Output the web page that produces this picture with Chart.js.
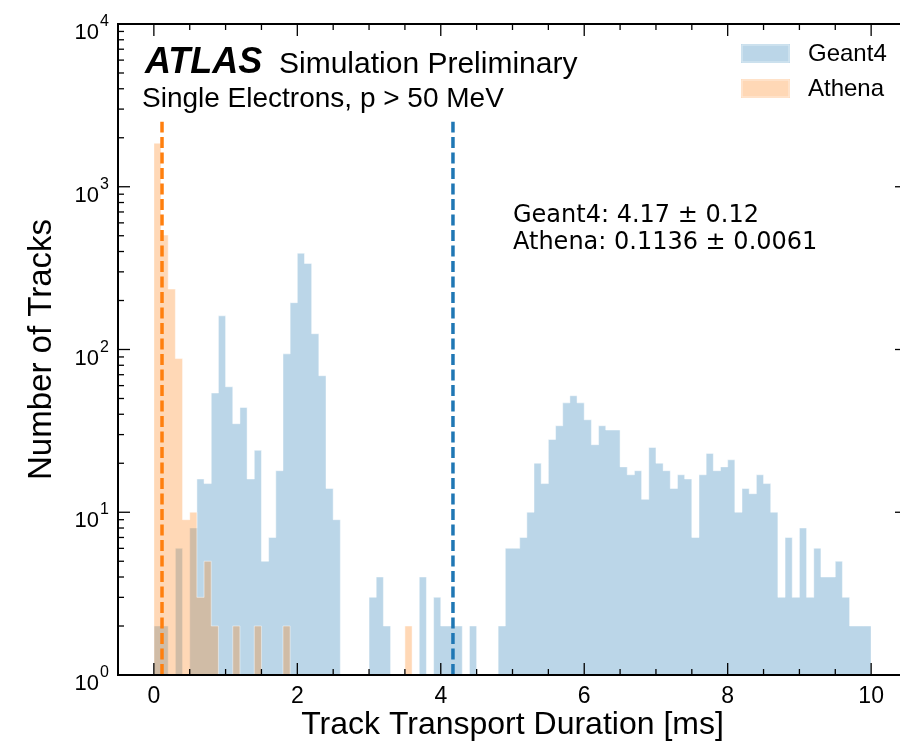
<!DOCTYPE html>
<html>
<head>
<meta charset="utf-8">
<title>Track Transport Duration</title>
<script src="https://cdn.jsdelivr.net/npm/chart.js@4.4.0/dist/chart.umd.min.js"></script>
<style>
  html, body { margin: 0; padding: 0; background: #fff; overflow: hidden; width: 900px; height: 747px; }
  canvas { display: block; }
</style>
</head>
<body>
<canvas id="chart" width="907" height="747"></canvas>
<script>
// histogram binning: 100 bins of 0.1 ms from 0 to 10 ms
const binStart = 0;
const binWidth = 0.1;

// counts per bin, Geant4 transport
const geant4Counts = [
  2, 2, 0, 6, 0, 8, 16, 15, 54, 161,
  59, 35, 44, 16, 24, 5, 7, 18, 94, 194,
  390, 338, 125, 69, 14, 9, 0, 0, 0, 0,
  3, 4, 2, 0, 0, 0, 0, 4, 0, 3,
  2, 2, 2, 0, 2, 0, 0, 0, 2, 6,
  6, 7, 10, 20, 15, 28, 34, 47, 52, 47,
  37, 26, 34, 32, 32, 19, 17, 18, 12, 25,
  20, 18, 14, 17, 16, 7, 17, 23, 18, 19,
  21, 10, 14, 13, 17, 15, 10, 3, 7, 3,
  8, 3, 6, 4, 4, 5, 3, 2, 2, 2
];

// counts per bin, Athena transport
const athenaCounts = [
  1850, 505, 235, 88, 9, 10, 3, 5, 2, 0,
  0, 2, 0, 0, 2, 0, 0, 0, 2, 0,
  0, 0, 0, 0, 0, 0, 0, 0, 0, 0,
  0, 0, 0, 0, 0, 2, 0, 0, 0, 0,
  0, 0, 0, 0, 0, 0, 0, 0, 0, 0,
  0, 0, 0, 0, 0, 0, 0, 0, 0, 0,
  0, 0, 0, 0, 0, 0, 0, 0, 0, 0,
  0, 0, 0, 0, 0, 0, 0, 0, 0, 0,
  0, 0, 0, 0, 0, 0, 0, 0, 0, 0,
  0, 0, 0, 0, 0, 0, 0, 0, 0, 0
];

const seriesNames = ['Geant4', 'Athena'];
const meanValues = [4.17, 0.1136];
const meanErrors = ['0.12', '0.0061'];
const meanLabels = ['4.17', '0.1136'];

const xTicks = [0, 2, 4, 6, 8, 10];
const xMinorStep = 0.5;
const xMin = -0.5, xMax = 10.5;
const yMin = 1, yMax = 10000;
const yDecades = [1, 10, 100, 1000, 10000];

const fillBlue = 'rgba(31,119,180,0.3)';
const fillOrange = 'rgba(255,127,14,0.3)';
const lineBlue = '#1f77b4';
const lineOrange = '#ff7f0e';
const helv = '"Liberation Sans", Arial, sans-serif';

// outline of a histogram as a stepped line, closed down to the axis floor
function stepPoints(counts) {
  const pts = [{ x: binStart, y: yMin }];
  counts.forEach((c, i) => pts.push({ x: binStart + i * binWidth, y: Math.max(c, yMin) }));
  pts.push({ x: binStart + counts.length * binWidth, y: yMin });
  return pts;
}

// mean marker running up to 85% of the axes height
function meanLine(v) {
  return [{ x: v, y: yMin }, { x: v, y: yMin * Math.pow(yMax / yMin, 0.85) }];
}

const frame = {
  id: 'frame',
  afterDatasetsDraw(chart) {
    const { ctx, chartArea: a, scales: { x, y } } = chart;
    ctx.save();
    ctx.strokeStyle = '#000';
    ctx.lineWidth = 1.3;
    const tick = (x0, y0, x1, y1) => { ctx.beginPath(); ctx.moveTo(x0, y0); ctx.lineTo(x1, y1); ctx.stroke(); };

    // x ticks, bottom and top, pointing inward
    for (let k = Math.ceil(xMin / xMinorStep); k * xMinorStep <= xMax; k++) {
      const v = k * xMinorStep;
      const len = xTicks.includes(v) ? 12 : 6;
      const px = x.getPixelForValue(v);
      tick(px, a.bottom, px, a.bottom - len);
      tick(px, a.top, px, a.top + len);
    }
    // y ticks, left and right
    yDecades.forEach((d, i) => {
      const py = y.getPixelForValue(d);
      tick(a.left, py, a.left + 12, py);
      tick(a.right, py, a.right - 12, py);
      if (i < yDecades.length - 1) {
        for (let m = 2; m <= 9; m++) {
          const pm = y.getPixelForValue(m * d);
          tick(a.left, pm, a.left + 6, pm);
          tick(a.right, pm, a.right - 6, pm);
        }
      }
    });
    ctx.lineWidth = 2;
    ctx.strokeRect(a.left, a.top, a.right - a.left, a.bottom - a.top);
    ctx.restore();
  },
  afterDraw(chart) {
    const { ctx, scales: { y } } = chart;
    ctx.save();
    ctx.fillStyle = '#000';
    ctx.textBaseline = 'alphabetic';

    // y tick labels as powers of ten
    yDecades.forEach(d => {
      const py = y.getPixelForValue(d);
      ctx.font = '22px ' + helv;
      ctx.textAlign = 'right';
      ctx.fillText('10', 99, py + 15);
      ctx.font = '16px ' + helv;
      ctx.textAlign = 'left';
      ctx.fillText(String(Math.round(Math.log10(d))), 100, py + 2);
    });

    ctx.textAlign = 'left';
    ctx.font = 'italic bold 36px ' + helv;
    ctx.fillText('ATLAS', 145, 73);
    ctx.font = '30px ' + helv;
    ctx.fillText('Simulation Preliminary', 279, 73);
    ctx.font = '28px ' + helv;
    ctx.fillText('Single Electrons, p > 50 MeV', 142, 107);

    ctx.font = '24px "DejaVu Sans", sans-serif';
    seriesNames.forEach((n, i) => {
      ctx.fillText(n + ': ' + meanLabels[i] + ' \u00b1 ' + meanErrors[i], 513, 222 + i * 27);
    });

    // legend
    const fills = [fillBlue, fillOrange];
    seriesNames.forEach((n, i) => {
      const top = 44 + i * 35;
      ctx.fillStyle = fills[i];
      ctx.fillRect(741, top, 49, 19);
      ctx.strokeStyle = 'rgba(255,255,255,0.5)';
      ctx.lineWidth = 1;
      ctx.strokeRect(742, top + 1, 47, 17);
      ctx.fillStyle = '#000';
      ctx.font = '24px ' + helv;
      ctx.textBaseline = 'middle';
      ctx.fillText(n, 808, top + 10);
    });
    ctx.restore();
  }
};

new Chart(document.getElementById('chart'), {
  type: 'line',
  data: {
    datasets: [
      {
        label: 'Geant4 mean',
        data: meanLine(meanValues[0]),
        borderColor: lineBlue, borderWidth: 3.5, borderDash: [11, 4.5],
        pointRadius: 0, fill: false, order: 0
      },
      {
        label: 'Athena mean',
        data: meanLine(meanValues[1]),
        borderColor: lineOrange, borderWidth: 3.5, borderDash: [11, 4.5],
        pointRadius: 0, fill: false, order: 0
      },
      {
        label: seriesNames[1],
        data: stepPoints(athenaCounts),
        stepped: true,
        backgroundColor: fillOrange,
        borderColor: 'rgba(255,255,255,0.45)', borderWidth: 1,
        pointRadius: 0, fill: 'start', order: 1
      },
      {
        label: seriesNames[0],
        data: stepPoints(geant4Counts),
        stepped: true,
        backgroundColor: fillBlue,
        borderColor: 'rgba(255,255,255,0.45)', borderWidth: 1,
        pointRadius: 0, fill: 'start', order: 2
      }
    ]
  },
  options: {
    responsive: false,
    devicePixelRatio: 1,
    animation: false,
    layout: { padding: { top: 24, right: 0, left: 0, bottom: 0 } },
    plugins: { legend: { display: false }, tooltip: { enabled: false } },
    scales: {
      x: {
        type: 'linear',
        min: xMin, max: xMax,
        grid: { display: false },
        border: { display: false },
        afterBuildTicks: s => { s.ticks = xTicks.map(v => ({ value: v })); },
        afterFit: s => { s.height = 72; },
        ticks: { color: '#000', font: { family: helv, size: 23 }, padding: 0, maxRotation: 0,
                 callback: v => String(v) },
        title: { display: true, text: 'Track Transport Duration [ms]', color: '#000',
                 font: { family: helv, size: 32 }, padding: { top: 0, bottom: 3 } }
      },
      y: {
        type: 'logarithmic',
        min: yMin, max: yMax,
        grid: { display: false },
        border: { display: false },
        ticks: { display: false },
        afterFit: s => { s.width = 118; },
        title: { display: true, text: 'Number of Tracks', color: '#000',
                 font: { family: helv, size: 33 }, padding: { top: 22, bottom: 0 } }
      }
    }
  },
  plugins: [frame]
});
</script>
</body>
</html>
